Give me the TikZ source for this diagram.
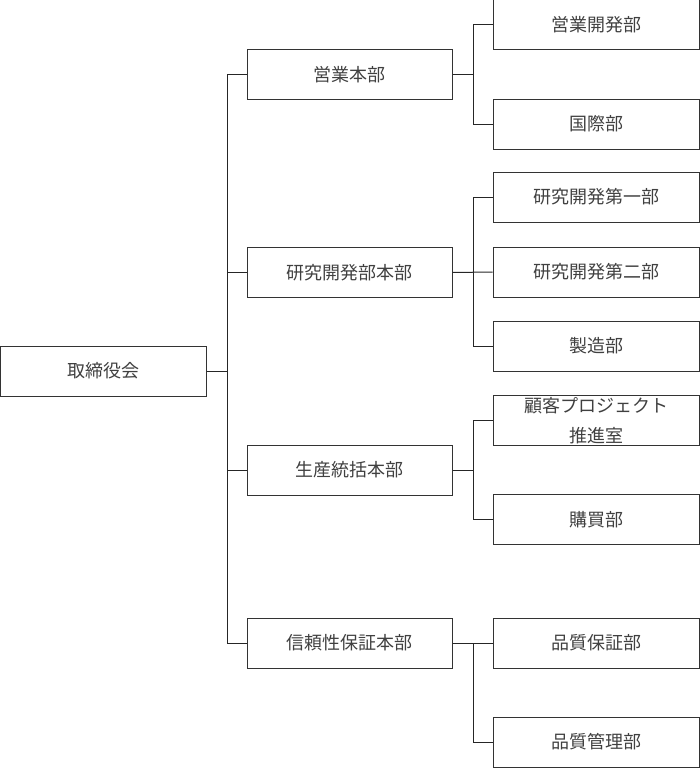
\documentclass[tikz,border=0pt]{standalone}
\usepackage{fontspec}
\newfontfamily\jp{Noto Sans CJK JP}
\begin{document}
\begin{tikzpicture}[x=1pt,y=-1pt,
  box/.style={draw=black!80,line width=1pt,minimum height=50pt,inner sep=0pt,font=\jp\fontsize{18}{30}\selectfont,text=black!75,align=center},
  lvl1/.style={box,minimum width=206pt},
  lvl2/.style={box,minimum width=205pt},
  lvl3/.style={box,minimum width=206pt},
  conn/.style={draw=black!85,line width=1pt}]
\useasboundingbox (0,0) rectangle (700,768);
\node[lvl1] (root) at (103,371) {取締役会};
\node[lvl2] (eigyo) at (349.5,74.5) {営業本部};
\node[lvl2] (kenkyu) at (349.5,272.5) {研究開発部本部};
\node[lvl2] (seisan) at (349.5,470) {生産統括本部};
\node[lvl2] (shinrai) at (349.5,643) {信頼性保証本部};
\node[lvl3] (e1) at (596,24.5) {営業開発部};
\node[lvl3] (e2) at (596,124) {国際部};
\node[lvl3] (k1) at (596,197) {研究開発第一部};
\node[lvl3] (k2) at (596,272) {研究開発第二部};
\node[lvl3] (k3) at (596,346) {製造部};
\node[lvl3] (s1) at (596,420.5) {顧客プロジェクト\\推進室};
\node[lvl3] (s2) at (596,519.5) {購買部};
\node[lvl3] (q1) at (596,643) {品質保証部};
\node[lvl3] (q2) at (596,742) {品質管理部};
% trunk
\coordinate (t) at (227,0);
\coordinate (b) at (473,0);
\draw[conn] (root.east) -- (root.east -| t);
\draw[conn] (eigyo.west -| t) -- (shinrai.west -| t);
\foreach \n in {eigyo,kenkyu,seisan,shinrai} \draw[conn] (\n.west -| t) -- (\n.west);
% branches
\draw[conn] (eigyo.east) -- (eigyo.east -| b);
\draw[conn] (e1.west -| b) -- (e2.west -| b);
\draw[conn] (e1.west -| b) -- (e1.west);
\draw[conn] (e2.west -| b) -- (e2.west);
\draw[conn] (kenkyu.east) -- (k2.west);
\draw[conn] (k1.west -| b) -- (k3.west -| b);
\draw[conn] (k1.west -| b) -- (k1.west);
\draw[conn] (k3.west -| b) -- (k3.west);
\draw[conn] (seisan.east) -- (seisan.east -| b);
\draw[conn] (s1.west -| b) -- (s2.west -| b);
\draw[conn] (s1.west -| b) -- (s1.west);
\draw[conn] (s2.west -| b) -- (s2.west);
\draw[conn] (shinrai.east) -- (q1.west);
\draw[conn] (q1.west -| b) -- (q2.west -| b) -- (q2.west);
\end{tikzpicture}
\end{document}
